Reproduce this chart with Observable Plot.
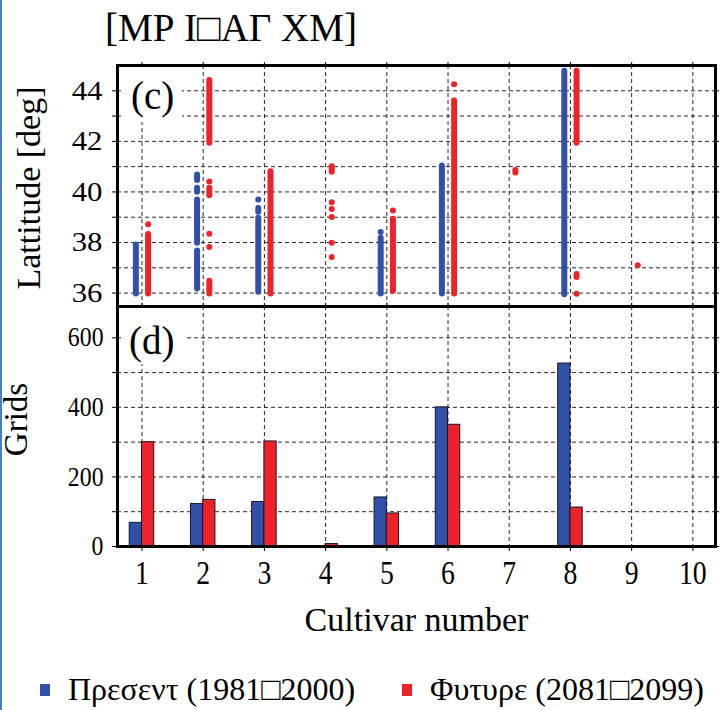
<!DOCTYPE html>
<html>
<head>
<meta charset="utf-8">
<script src="https://cdn.jsdelivr.net/npm/d3@7"></script>
<script src="https://cdn.jsdelivr.net/npm/@observablehq/plot@0.6"></script>
<style>
  body { margin: 0; background: #fff; }
  #wrap { position: relative; width: 720px; height: 710px; overflow: hidden;
          font-family: "Liberation Serif", Tinos, "Times New Roman", Times, "DejaVu Serif", serif;
          color: #000; background: #fff; }
  #edge { position: absolute; left: 0; top: 0; width: 2px; height: 710px; background: #4a7fc4; }
  #title { position: absolute; left: 105px; top: 5px; font-size: 39px; line-height: 46px; white-space: nowrap; }
  #top, #bottom { position: absolute; left: 0; }
  #top { top: 0; }
  #bottom { top: 300px; }
  .tag { position: absolute; background: #fff; font-size: 39px; line-height: 42px; padding-left: 10px; box-sizing: border-box; }
  #tagc { left: 121px; top: 67px; width: 61px; height: 55px; padding-top: 8px; }
  #tagd { left: 121px; top: 308px; width: 64px; height: 56px; padding-top: 12px; padding-left: 8px; }
  .key { position: absolute; top: 670px; font-size: 32px; line-height: 38px; white-space: nowrap; }
  .sw { position: absolute; width: 10px; height: 12px; top: 684px; }
</style>
</head>
<body>
<div id="wrap">
  <div id="edge"></div>
  <div id="title">[ΜΡ Ι□ΑΓ ΧΜ]</div>
  <div id="top"></div>
  <div id="bottom"></div>
  <div class="tag" id="tagc">(c)</div>
  <div class="tag" id="tagd">(d)</div>
  <div class="sw" id="swPresent" style="left:40px"></div>
  <div class="key" id="keyPresent" style="left:68px"></div>
  <div class="key" id="keyFuture" style="left:430px"></div>
  <div class="sw" id="swFuture" style="left:402px"></div>
</div>
<script>
// Cultivar numbers on the shared x axis
const cultivars = [1, 2, 3, 4, 5, 6, 7, 8, 9, 10];

// (d) number of grid cells assigned to each cultivar
const presentGrids = [68, 122, 128, 0, 141, 400, 0, 526, 0, 0];
const futureGrids  = [300, 134, 302, 7, 95, 350, 1, 112, 1, 0];

// (c) latitude of those grid cells: contiguous runs [cultivar, south, north]
const presentRuns = [
  [1, 35.96, 37.90],
  [2, 36.16, 37.66], [2, 37.97, 39.68], [2, 39.99, 40.15], [2, 40.45, 40.67],
  [3, 36.03, 38.96], [3, 39.20, 39.35],
  [5, 35.96, 38.17],
  [6, 35.96, 41.03],
  [8, 35.93, 44.77]
];
const presentDots = [[3, 39.70], [5, 38.42]];

const futureRuns = [
  [1, 35.96, 38.32],
  [2, 35.96, 36.47], [2, 39.85, 40.15], [2, 41.93, 44.41],
  [3, 35.96, 40.80],
  [4, 40.78, 41.00],
  [5, 36.07, 38.92],
  [6, 35.96, 43.60],
  [7, 40.75, 40.85],
  [8, 36.62, 36.74], [8, 41.93, 44.77]
];
const futureDots = [
  [1, 38.72], [2, 40.41], [2, 38.35], [2, 37.82],
  [4, 39.59], [4, 39.33], [4, 39.01], [4, 37.99], [4, 37.43],
  [5, 39.27], [6, 44.26], [8, 35.97], [9, 37.10]
];

// Tick values
const latTicks = [36, 37, 38, 39, 40, 41, 42, 43, 44];
const gridTicks = [0, 100, 200, 300, 400, 500, 600];

const seriesNames = ["Πρεσεντ (1981□2000)", "Φυτυρε  (2081□2099)"];
const blue = "#3151a8";
const red = "#ee2229";

const xDomain = [0.6, 10.37];
const font = "'Liberation Serif', Tinos, 'Times New Roman', Times, 'DejaVu Serif', serif";
const dash = {stroke: "#000", strokeOpacity: 0.85, strokeWidth: 1, strokeDasharray: "4,3"};
const common = {
  width: 720,
  marginLeft: 117,
  marginRight: 5,
  style: {background: "transparent", fontFamily: font, color: "#000", overflow: "visible"}
};

// Widen or narrow rendered labels along their baseline, keeping their anchors
function stretch(svg, selector, factor) {
  svg.querySelectorAll(selector).forEach(t => {
    if (!t.textContent) return;
    const w = t.getComputedTextLength();
    if (w > 0) {
      t.setAttribute("textLength", (w * factor).toFixed(2));
      t.setAttribute("lengthAdjust", "spacingAndGlyphs");
    }
  });
}

// Panel (c): latitude of grid cells per cultivar
const topPlot = Plot.plot({
  ...common,
  height: 308,
  marginTop: 65,
  marginBottom: 2,
  x: {domain: xDomain, axis: null},
  y: {domain: [35.47, 45], axis: null},
  marks: [
    Plot.gridX(cultivars, dash),
    Plot.gridY(latTicks, dash),
    Plot.axisX(cultivars, {anchor: "top", tickSize: 4, tickFormat: () => "", label: null}),
    Plot.axisY(latTicks, {anchor: "left", tickSize: 5, tickPadding: 10, fontSize: 28,
      tickFormat: d => d % 2 === 0 ? String(d) : "", label: null, ariaLabel: "lat-ticks"}),
    Plot.axisY(latTicks, {anchor: "right", tickSize: 3, tickFormat: () => "", label: null}),
    Plot.ruleX(presentRuns, {x: d => d[0] - 0.1, y1: d => d[1], y2: d => d[2],
      stroke: blue, strokeWidth: 6, strokeLinecap: "round"}),
    Plot.dot(presentDots, {x: d => d[0] - 0.1, y: d => d[1], r: 3, fill: blue}),
    Plot.ruleX(futureRuns, {x: d => d[0] + 0.1, y1: d => d[1], y2: d => d[2],
      stroke: red, strokeWidth: 6, strokeLinecap: "round"}),
    Plot.dot(futureDots, {x: d => d[0] + 0.1, y: d => d[1], r: 3, fill: red}),
    Plot.frame({stroke: "#000", strokeWidth: 3}),
    Plot.text(["Lattitude [deg]"], {frameAnchor: "left", textAnchor: "middle", dx: -88, dy: 2,
      rotate: -90, fontSize: 34, fill: "#000"})
  ]
});
document.getElementById("top").append(topPlot);
stretch(topPlot, 'g[aria-label^="lat-ticks"] text', 1.1);

// Panel (d): grid counts per cultivar
const rows = cultivars.map((c, i) => ({c, present: presentGrids[i], future: futureGrids[i]}));
const bottomPlot = Plot.plot({
  ...common,
  height: 360,
  marginTop: 6,
  marginBottom: 114,
  x: {domain: xDomain, axis: null},
  y: {domain: [0, 690], axis: null},
  marks: [
    Plot.gridX(cultivars, dash),
    Plot.gridY(gridTicks, dash),
    Plot.axisX(cultivars, {anchor: "top", tickSize: 4, tickFormat: () => "", label: null}),
    Plot.axisX(cultivars, {anchor: "bottom", tickSize: 5, tickPadding: 9, fontSize: 33,
      label: null, ariaLabel: "cultivar-ticks"}),
    Plot.axisY(gridTicks, {anchor: "left", tickSize: 5, tickPadding: 9, fontSize: 27,
      tickFormat: d => d % 200 === 0 ? String(d) : "", label: null, ariaLabel: "grid-ticks"}),
    Plot.axisY(gridTicks, {anchor: "right", tickSize: 3, tickFormat: () => "", label: null}),
    Plot.rect(rows.filter(d => d.present > 0), {x1: d => d.c - 0.2, x2: d => d.c, y1: 0, y2: "present",
      fill: blue, stroke: "#15152a", strokeWidth: 1}),
    Plot.rect(rows.filter(d => d.future > 0), {x1: d => d.c, x2: d => d.c + 0.2, y1: 0, y2: "future",
      fill: red, stroke: "#15152a", strokeWidth: 1}),
    Plot.frame({stroke: "#000", strokeWidth: 3}),
    Plot.text(["Grids"], {frameAnchor: "left", textAnchor: "middle", dx: -101, dy: -7, rotate: -90,
      fontSize: 33, fill: "#000", ariaLabel: "grids-title"}),
    Plot.text(["Cultivar number"], {frameAnchor: "bottom", dy: 84, fontSize: 34, fill: "#000"})
  ]
});
document.getElementById("bottom").append(bottomPlot);
stretch(bottomPlot, 'g[aria-label^="cultivar-ticks"] text', 0.84);
stretch(bottomPlot, 'g[aria-label^="grid-ticks"] text', 0.88);
stretch(bottomPlot, 'g[aria-label^="grids-title"] text', 0.8);

// Legend
document.getElementById("swPresent").style.background = blue;
document.getElementById("swFuture").style.background = red;
document.getElementById("keyPresent").textContent = seriesNames[0];
document.getElementById("keyFuture").textContent = seriesNames[1];
</script>
</body>
</html>
